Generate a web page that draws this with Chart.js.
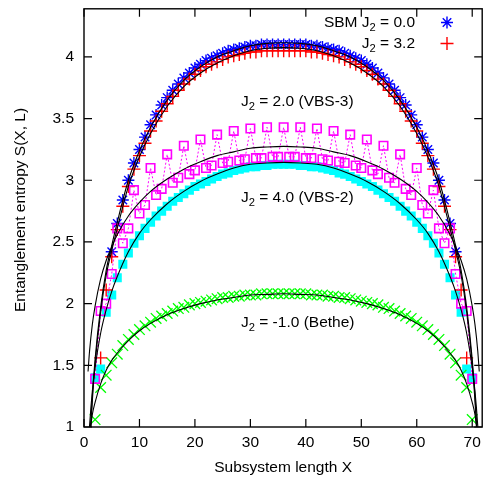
<!DOCTYPE html>
<html>
<head>
<meta charset="utf-8">
<script src="https://cdn.jsdelivr.net/npm/chart.js@4.4.1/dist/chart.umd.min.js"></script>
<style>
  html, body { margin: 0; padding: 0; background: #fff; }
  #wrap { width: 491px; height: 485px; }
</style>
</head>
<body>
<div id="wrap"><canvas id="entropyChart" width="491" height="485"></canvas></div>
<script>
// subsystem length X, system size L = 72
const subsystemX = [
   1,  2,  3,  4,  5,  6,  7,  8,  9, 10,
  11, 12, 13, 14, 15, 16, 17, 18, 19, 20,
  21, 22, 23, 24, 25, 26, 27, 28, 29, 30,
  31, 32, 33, 34, 35, 36, 37, 38, 39, 40,
  41, 42, 43, 44, 45, 46, 47, 48, 49, 50,
  51, 52, 53, 54, 55, 56, 57, 58, 59, 60,
  61, 62, 63, 64, 65, 66, 67, 68, 69, 70,
  71
];

// SBM J2 = 0.0 (blue asterisks)
const sbmJ2_00 = [
  null, null, null, null, 2.42, 2.65, 2.84, 3.00, 3.14, 3.25,
  3.35, 3.45, 3.53, 3.61, 3.67, 3.73, 3.78, 3.83, 3.87, 3.91,
  3.94, 3.97, 3.99, 4.01, 4.03, 4.05, 4.06, 4.07, 4.08, 4.09,
  4.09, 4.10, 4.10, 4.10, 4.10, 4.10, 4.10, 4.10, 4.10, 4.10,
  4.09, 4.09, 4.08, 4.07, 4.06, 4.05, 4.03, 4.01, 3.99, 3.97,
  3.94, 3.91, 3.87, 3.83, 3.78, 3.73, 3.67, 3.61, 3.53, 3.45,
  3.35, 3.25, 3.14, 3.00, 2.84, 2.65, 2.42, null, null, null,
  null
];

// J2 = 3.2 (red plus)
const sbmJ2_32 = [
  null, null, 1.56, 2.11, 2.38, 2.60, 2.79, 2.95, 3.09, 3.20,
  3.30, 3.40, 3.48, 3.56, 3.62, 3.68, 3.73, 3.78, 3.82, 3.86,
  3.89, 3.92, 3.94, 3.96, 3.98, 4.00, 4.01, 4.02, 4.03, 4.04,
  4.04, 4.05, 4.05, 4.05, 4.05, 4.05, 4.05, 4.05, 4.05, 4.05,
  4.04, 4.04, 4.03, 4.02, 4.01, 4.00, 3.98, 3.96, 3.94, 3.92,
  3.89, 3.86, 3.82, 3.78, 3.73, 3.68, 3.62, 3.56, 3.48, 3.40,
  3.30, 3.20, 3.09, 2.95, 2.79, 2.60, 2.38, 2.11, 1.56, null,
  null
];

// J2 = 2.0 (VBS-3), magenta open squares
const vbs3J2_20 = [
  null, 1.39, 1.94, 2.00, 2.24, 2.61, 2.49, 2.61, 2.92, 2.73,
  2.80, 3.10, 2.88, 2.93, 3.21, 2.98, 3.02, 3.28, 3.05, 3.08,
  3.33, 3.10, 3.12, 3.37, 3.14, 3.15, 3.40, 3.16, 3.17, 3.42,
  3.18, 3.18, 3.43, 3.19, 3.19, 3.43, 3.19, 3.19, 3.43, 3.18,
  3.18, 3.42, 3.17, 3.16, 3.40, 3.15, 3.14, 3.37, 3.12, 3.10,
  3.33, 3.08, 3.05, 3.28, 3.02, 2.98, 3.21, 2.93, 2.88, 3.10,
  2.80, 2.73, 2.92, 2.61, 2.49, 2.61, 2.24, 2.00, 1.94, 1.39,
  null
];

// J2 = 4.0 (VBS-2), cyan filled squares
const vbs2J2_40 = [
  null, 1.40, 1.47, 1.93, 2.07, 2.21, 2.32, 2.41, 2.49, 2.55,
  2.61, 2.66, 2.71, 2.75, 2.79, 2.83, 2.86, 2.89, 2.92, 2.95,
  2.97, 2.99, 3.01, 3.03, 3.05, 3.06, 3.08, 3.09, 3.10, 3.11,
  3.11, 3.12, 3.12, 3.13, 3.13, 3.13, 3.13, 3.13, 3.12, 3.12,
  3.11, 3.11, 3.10, 3.09, 3.08, 3.06, 3.05, 3.03, 3.01, 2.99,
  2.97, 2.95, 2.92, 2.89, 2.86, 2.83, 2.79, 2.75, 2.71, 2.66,
  2.61, 2.55, 2.49, 2.41, 2.32, 2.21, 2.07, 1.93, 1.47, 1.40,
  null
];

// J2 = -1.0 (Bethe), green crosses
const betheJ2_m10 = [
  null, 1.06, 1.32, 1.42, 1.52, 1.59, 1.66, 1.71, 1.75, 1.79,
  1.82, 1.85, 1.88, 1.90, 1.92, 1.94, 1.96, 1.97, 1.99, 2.00,
  2.01, 2.02, 2.03, 2.04, 2.05, 2.05, 2.06, 2.06, 2.07, 2.07,
  2.07, 2.08, 2.08, 2.08, 2.08, 2.08, 2.08, 2.08, 2.08, 2.08,
  2.07, 2.07, 2.07, 2.06, 2.06, 2.05, 2.05, 2.04, 2.03, 2.02,
  2.01, 2.00, 1.99, 1.97, 1.96, 1.94, 1.92, 1.90, 1.88, 1.85,
  1.82, 1.79, 1.75, 1.71, 1.66, 1.59, 1.52, 1.42, 1.32, 1.06,
  null
];

// black fit curves at these X
const fitX = [0.73, 1, 1.5, 2, 3, 4, 5, 6, 8, 10, 12, 15, 18, 21, 24, 27, 30, 33, 36,
              39, 42, 45, 48, 51, 54, 57, 60, 62, 64, 66, 67, 68, 69, 70, 70.5, 71, 71.27];
const fitJ2_00 = [0.49, 0.82, 1.25, 1.55, 1.97, 2.27, 2.47, 2.66, 3.00, 3.24, 3.43, 3.65, 3.81, 3.92, 4.00, 4.05, 4.09, 4.11, 4.115,
                  4.11, 4.09, 4.05, 4.00, 3.92, 3.81, 3.65, 3.43, 3.24, 3.00, 2.66, 2.47, 2.27, 1.97, 1.55, 1.25, 0.82, 0.49];
const fitJ2_32 = [0.45, 0.78, 1.21, 1.51, 1.93, 2.23, 2.43, 2.61, 2.95, 3.19, 3.38, 3.60, 3.76, 3.87, 3.95, 4.01, 4.05, 4.07, 4.075,
                  4.07, 4.05, 4.01, 3.95, 3.87, 3.76, 3.60, 3.38, 3.19, 2.95, 2.61, 2.43, 2.23, 1.93, 1.51, 1.21, 0.78, 0.45];
const fitJ2_20 = [1.45, 1.615, 1.83, 1.98, 2.20, 2.35, 2.46, 2.56, 2.71, 2.82, 2.91, 3.01, 3.09, 3.15, 3.20, 3.23, 3.26, 3.27, 3.275,
                  3.27, 3.26, 3.23, 3.20, 3.15, 3.09, 3.01, 2.91, 2.82, 2.71, 2.56, 2.46, 2.35, 2.20, 1.98, 1.83, 1.615, 1.45];
const fitJ2_40 = [0.80, 1.01, 1.29, 1.48, 1.76, 1.95, 2.10, 2.22, 2.42, 2.57, 2.68, 2.81, 2.91, 2.99, 3.05, 3.10, 3.13, 3.14, 3.145,
                  3.14, 3.13, 3.10, 3.05, 2.99, 2.91, 2.81, 2.68, 2.57, 2.42, 2.22, 2.10, 1.95, 1.76, 1.48, 1.29, 1.01, 0.80];
const fitJ2_m10 = [0.85, 0.93, 1.10, 1.20, 1.35, 1.46, 1.54, 1.60, 1.70, 1.78, 1.84, 1.91, 1.96, 2.00, 2.03, 2.05, 2.07, 2.075, 2.08,
                   2.075, 2.07, 2.05, 2.03, 2.00, 1.96, 1.91, 1.84, 1.78, 1.70, 1.60, 1.54, 1.46, 1.35, 1.20, 1.10, 0.93, 0.85];

const xTickValues = [0, 10, 20, 30, 40, 50, 60, 70];
const yTickValues = [1, 1.5, 2, 2.5, 3, 3.5, 4];

const FAMILY = "'Liberation Sans', Arial, sans-serif";
const FONT_SIZE = 15.5;
const TICK = 8;

const toPoints = (ys) => subsystemX.map((x, i) => ({ x: x, y: ys[i] }));
const fitPoints = (ys) => fitX.map((x, i) => ({ x: x, y: ys[i] }));

const fitLine = (ys) => ({
  data: fitPoints(ys),
  showLine: true,
  borderColor: '#000',
  borderWidth: 1.1,
  pointRadius: 0,
  cubicInterpolationMode: 'monotone',
  clip: 0
});

// no extra room for label overflow: the plot box is fixed
const noPadding = s => { s.paddingTop = 0; s.paddingBottom = 0; s.paddingLeft = 0; s.paddingRight = 0; };

// text with a subscript, e.g. J_2
function drawSub(ctx, x, y, before, sub, after, align) {
  const big = FONT_SIZE + 'px ' + FAMILY;
  const small = (FONT_SIZE * 0.72) + 'px ' + FAMILY;
  ctx.font = big;
  const w1 = ctx.measureText(before).width;
  const w3 = ctx.measureText(after).width;
  ctx.font = small;
  const w2 = ctx.measureText(sub).width;
  let left = align === 'right' ? x - (w1 + w2 + w3) : x;
  ctx.textAlign = 'left';
  ctx.textBaseline = 'alphabetic';
  ctx.font = big;
  ctx.fillText(before, left, y);
  ctx.font = small;
  ctx.fillText(sub, left + w1, y + 4);
  ctx.font = big;
  ctx.fillText(after, left + w1 + w2, y);
}

const gnuplotFrame = {
  id: 'gnuplotFrame',
  afterDraw(chart) {
    const { ctx, chartArea: a, scales: { x, y } } = chart;
    ctx.save();
    ctx.strokeStyle = '#000';
    ctx.lineWidth = 1.4;
    ctx.strokeRect(a.left, a.top, a.right - a.left, a.bottom - a.top);

    // inward ticks, mirrored on top and right
    ctx.lineWidth = 1.2;
    ctx.beginPath();
    xTickValues.forEach(v => {
      const px = x.getPixelForValue(v);
      ctx.moveTo(px, a.bottom); ctx.lineTo(px, a.bottom - TICK);
      ctx.moveTo(px, a.top); ctx.lineTo(px, a.top + TICK);
    });
    yTickValues.forEach(v => {
      const py = y.getPixelForValue(v);
      ctx.moveTo(a.left, py); ctx.lineTo(a.left + TICK, py);
      ctx.moveTo(a.right, py); ctx.lineTo(a.right - TICK, py);
    });
    ctx.stroke();

    ctx.fillStyle = '#000';
    ctx.font = FONT_SIZE + 'px ' + FAMILY;

    // axis titles
    ctx.textAlign = 'center';
    ctx.textBaseline = 'alphabetic';
    ctx.fillText('Subsystem length X', (a.left + a.right) / 2, 472);
    ctx.save();
    ctx.translate(25, 210);
    ctx.rotate(-Math.PI / 2);
    ctx.fillText('Entanglement entropy S(X, L)', 0, 0);
    ctx.restore();

    // key (top right)
    drawSub(ctx, 415, 27, 'SBM J', '2', ' = 0.0', 'right');
    drawSub(ctx, 415, 48, 'J', '2', ' = 3.2', 'right');
    const helpers = Chart.helpers;
    ctx.lineWidth = 1.4;
    ctx.strokeStyle = '#0000ff'; ctx.fillStyle = '#0000ff';
    helpers.drawPoint(ctx, { pointStyle: 'star', radius: 6, rotation: 0, borderWidth: 1.4 }, 447, 22.5);
    ctx.strokeStyle = '#ff0000'; ctx.fillStyle = '#ff0000';
    helpers.drawPoint(ctx, { pointStyle: 'cross', radius: 6.5, rotation: 0, borderWidth: 1.4 }, 447, 43.5);

    // curve labels
    ctx.fillStyle = '#000';
    drawSub(ctx, 241, 106, 'J', '2', ' = 2.0 (VBS-3)', 'left');
    drawSub(ctx, 241, 202, 'J', '2', ' = 4.0 (VBS-2)', 'left');
    drawSub(ctx, 241, 327, 'J', '2', ' = -1.0 (Bethe)', 'left');
    ctx.restore();
  }
};

new Chart(document.getElementById('entropyChart'), {
  type: 'scatter',
  data: {
    datasets: [
      // first entries are drawn on top
      fitLine(fitJ2_00),
      fitLine(fitJ2_32),
      fitLine(fitJ2_20),
      fitLine(fitJ2_40),
      fitLine(fitJ2_m10),
      {
        label: 'J2 = 2.0 (VBS-3)',
        data: toPoints(vbs3J2_20),
        showLine: true,
        spanGaps: false,
        borderColor: '#ff00ff',
        borderWidth: 1,
        borderDash: [2, 2],
        pointStyle: 'rect',
        pointRadius: 6,
        pointBorderWidth: 1.6,
        pointBorderColor: '#ff00ff',
        pointBackgroundColor: 'rgba(0,0,0,0)'
      },
      {
        label: 'J2 = 3.2',
        data: toPoints(sbmJ2_32),
        pointStyle: 'cross',
        pointRadius: 6.5,
        pointBorderWidth: 1.4,
        pointBorderColor: '#ff0000',
        pointBackgroundColor: '#ff0000'
      },
      {
        label: 'SBM J2 = 0.0',
        data: toPoints(sbmJ2_00),
        pointStyle: 'star',
        pointRadius: 6,
        pointBorderWidth: 1.4,
        pointBorderColor: '#0000ff',
        pointBackgroundColor: '#0000ff'
      },
      {
        label: 'J2 = -1.0 (Bethe)',
        data: toPoints(betheJ2_m10),
        pointStyle: 'crossRot',
        pointRadius: 7.5,
        pointBorderWidth: 1.3,
        pointBorderColor: '#00ff00',
        pointBackgroundColor: '#00ff00'
      },
      {
        label: 'J2 = 4.0 (VBS-2)',
        data: toPoints(vbs2J2_40),
        pointStyle: 'rect',
        pointRadius: 6.4,
        pointBorderWidth: 0,
        pointBorderColor: '#00ffff',
        pointBackgroundColor: '#00ffff'
      }
    ]
  },
  options: {
    responsive: false,
    animation: false,
    devicePixelRatio: 1,
    layout: { padding: { top: 4, right: 2, left: 0, bottom: 0 } },
    plugins: { legend: { display: false }, tooltip: { enabled: false } },
    scales: {
      x: {
        type: 'linear',
        min: 0,
        max: 71.8,
        afterBuildTicks: s => { s.ticks = xTickValues.map(v => ({ value: v })); },
        afterFit: s => { s.height = 58; noPadding(s); },
        grid: { display: false, drawTicks: false },
        border: { display: false },
        ticks: { padding: 6, color: '#000', font: { family: FAMILY, size: FONT_SIZE }, callback: v => String(v) }
      },
      y: {
        type: 'linear',
        min: 1,
        max: 4.39,
        afterBuildTicks: s => { s.ticks = yTickValues.map(v => ({ value: v })); },
        afterFit: s => { s.width = 84; noPadding(s); },
        grid: { display: false, drawTicks: false },
        border: { display: false },
        ticks: { padding: 10, color: '#000', font: { family: FAMILY, size: FONT_SIZE }, callback: v => String(v) }
      }
    }
  },
  plugins: [gnuplotFrame]
});
</script>
</body>
</html>
